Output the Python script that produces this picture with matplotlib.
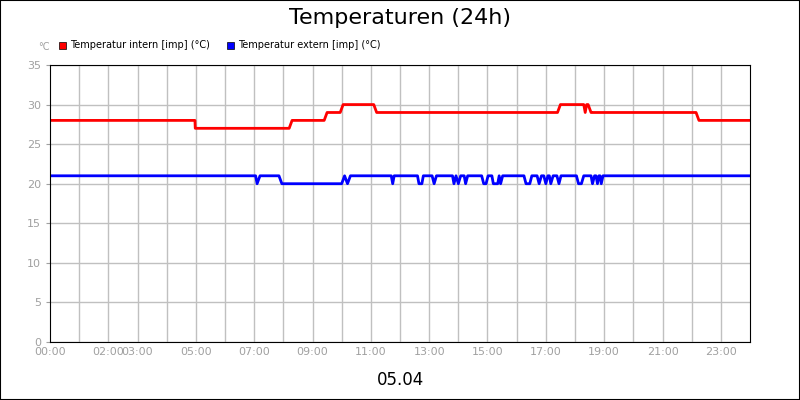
import matplotlib
matplotlib.use("Agg")
import matplotlib.pyplot as plt

red_t = [0, 4.97, 4.98, 8.2, 8.3, 9.4, 9.5, 9.95, 10.05, 11.1, 11.2, 17.4, 17.5, 18.3, 18.35, 18.4, 18.45, 18.55, 18.6, 22.15, 22.25, 24]
red_v = [28, 28, 27, 27, 28, 28, 29, 29, 30, 30, 29, 29, 30, 30, 29, 30, 30, 29, 29, 29, 28, 28]

blue_t = [0, 7.05, 7.1, 7.2, 7.85, 7.95, 10.0, 10.1, 10.2, 10.3, 11.7, 11.75, 11.8,
          12.6, 12.65, 12.75, 12.8, 13.1, 13.17, 13.25,
          13.8, 13.85, 13.92, 14.0, 14.08, 14.2, 14.25, 14.32,
          14.8, 14.87, 14.95, 15.02, 15.15, 15.2, 15.35, 15.4, 15.45, 15.52,
          16.25, 16.32, 16.45, 16.52, 16.7, 16.77, 16.85, 16.93, 17.0, 17.07, 17.12, 17.17, 17.25, 17.38, 17.45, 17.52,
          18.05, 18.12, 18.22, 18.3, 18.55, 18.6, 18.67, 18.72, 18.77, 18.82, 18.86, 18.9, 18.96, 24]
blue_v = [21, 21, 20, 21, 21, 20, 20, 21, 20, 21, 21, 20, 21,
          21, 20, 20, 21, 21, 20, 21,
          21, 20, 21, 20, 21, 21, 20, 21,
          21, 20, 20, 21, 21, 20, 20, 21, 20, 21,
          21, 20, 20, 21, 21, 20, 21, 21, 20, 21, 21, 20, 21, 21, 20, 21,
          21, 20, 20, 21, 21, 20, 21, 21, 20, 21, 21, 20, 21, 21]

xtick_pos = [0, 2, 3, 5, 7, 9, 11, 13, 15, 17, 19, 21, 23]
xtick_lab = ["00:00", "02:00", "03:00", "05:00", "07:00", "09:00", "11:00", "13:00", "15:00", "17:00", "19:00", "21:00", "23:00"]
yticks = [0, 5, 10, 15, 20, 25, 30, 35]

fig = plt.figure(figsize=(8, 4), dpi=100)
fig.patches.append(plt.Rectangle((0, 0), 1, 1, transform=fig.transFigure, fill=False, ec="black", lw=1.5))
ax = fig.add_axes([50/800, 1-342/400, 700/800, 277/400])
for h in range(1, 24):
    ax.axvline(h, color="#c0c0c0", lw=1, zorder=0)
ax.plot(red_t, red_v, color="#ff0000", lw=2)
ax.plot(blue_t, blue_v, color="#0000ff", lw=2)
ax.set_xlim(0, 24)
ax.set_ylim(0, 35)
ax.set_xticks(xtick_pos)
ax.set_xticklabels(xtick_lab)
ax.set_yticks(yticks)
ax.grid(True, which="major", axis="y", color="#c0c0c0", lw=1)
ax.set_axisbelow(True)
ax.tick_params(axis="both", colors="#a0a0a0", labelsize=8, length=3, labelcolor="#a0a0a0")
ax.tick_params(axis="x", length=0)
for s in ax.spines.values():
    s.set_color("black")
fig.text(0.5, 0.955, "Temperaturen (24h)", ha="center", va="center", fontsize=16)
fig.text(0.5, 0.05, "05.04", ha="center", va="center", fontsize=12)
fig.text(38/800, 1-47/400, "°C", ha="left", va="center", fontsize=7, color="#a0a0a0")
fig.patches.append(plt.Rectangle((59/800, 1-49/400), 7/800, 7/400, transform=fig.transFigure, fc="#ff0000", ec="black", lw=0.5))
fig.text(70/800, 1-45/400, "Temperatur intern [imp] (°C)", fontsize=7, va="center")
fig.patches.append(plt.Rectangle((227/800, 1-49/400), 7/800, 7/400, transform=fig.transFigure, fc="#0000ff", ec="black", lw=0.5))
fig.text(238/800, 1-45/400, "Temperatur extern [imp] (°C)", fontsize=7, va="center")
fig.savefig("out.png", dpi=100)
